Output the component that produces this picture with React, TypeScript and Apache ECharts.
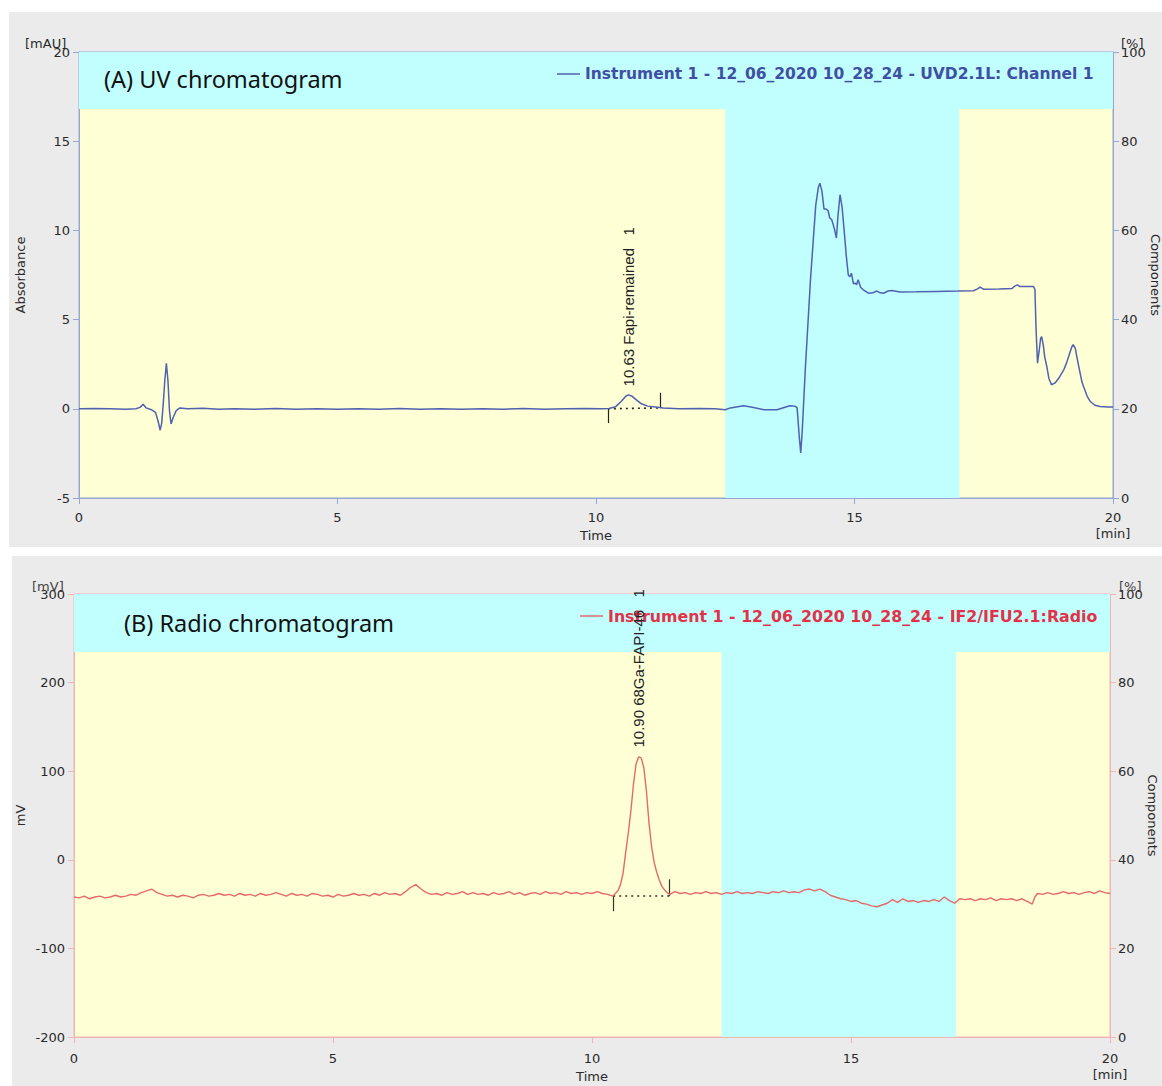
import React, { useEffect, useRef } from "react";
import * as echarts from "echarts";

const uvName = "Instrument 1 - 12_06_2020 10_28_24 - UVD2.1L: Channel 1";
const radioName = "Instrument 1 - 12_06_2020 10_28_24 - IF2/IFU2.1:Radio";

const uvTitle = "(A) UV chromatogram";
const radioTitle = "(B) Radio chromatogram";

const uvPeakLabel = "10.63 Fapi-remained   1";
const radioPeakLabel = "10.90 68Ga-FAPI-46   1";

// time window (min) of the cyan column and top band levels (left-axis units)
const cyanWindow = [12.5, 17.03];
const uvTopBand = [16.8, 20];
const radioTopBand = [234.5, 300];

// UV trace [time min, mAU]
const uvData: [number, number][] = [
  [0, 0.0], [0.3, 0.02], [0.6, 0.0], [0.9, -0.03], [1.1, 0.0], [1.18, 0.08], [1.24, 0.25], [1.3, 0.05],
  [1.4, -0.05], [1.48, -0.2], [1.53, -0.7], [1.57, -1.2], [1.6, -0.8], [1.63, 0.3], [1.66, 1.6], [1.69, 2.55],
  [1.72, 1.6], [1.75, -0.1], [1.78, -0.85], [1.82, -0.5], [1.88, -0.1], [1.95, 0.05], [2.1, 0.0], [2.4, 0.03],
  [2.7, -0.02], [3.0, 0.0], [3.4, -0.03], [3.8, 0.01], [4.2, -0.02], [4.6, 0.0], [5.0, -0.03], [5.4, 0.0],
  [5.8, -0.02], [6.2, 0.01], [6.6, -0.03], [7.0, 0.0], [7.4, -0.02], [7.8, 0.0], [8.2, -0.02], [8.6, 0.01],
  [9.0, -0.02], [9.4, 0.0], [9.8, 0.02], [10.1, 0.0], [10.25, 0.02], [10.38, 0.12], [10.5, 0.45], [10.58, 0.72],
  [10.63, 0.78], [10.7, 0.7], [10.78, 0.5], [10.88, 0.28], [11.0, 0.15], [11.15, 0.1], [11.3, 0.05], [11.6, 0.0],
  [12.0, 0.02], [12.3, 0.0], [12.5, -0.05], [12.6, 0.05], [12.85, 0.17], [13.0, 0.1], [13.25, -0.05], [13.5, -0.05],
  [13.75, 0.17], [13.85, 0.15], [13.89, 0.05], [13.93, -1.5], [13.96, -2.48], [13.99, -1.2], [14.05, 2.3],
  [14.15, 7.3], [14.25, 11.4], [14.3, 12.4], [14.33, 12.65], [14.37, 12.2], [14.41, 11.2], [14.45, 11.2],
  [14.49, 11.1], [14.52, 10.7], [14.56, 10.6], [14.61, 10.1], [14.65, 9.57], [14.68, 10.8], [14.72, 12.0],
  [14.76, 11.3], [14.8, 10.0], [14.84, 8.6], [14.88, 7.5], [14.91, 7.4], [14.94, 7.6], [14.98, 7.0],
  [15.01, 7.05], [15.04, 6.95], [15.07, 7.23], [15.12, 6.8], [15.17, 6.67], [15.27, 6.48], [15.35, 6.5],
  [15.43, 6.6], [15.5, 6.5], [15.56, 6.48], [15.65, 6.6], [15.72, 6.63], [15.88, 6.55], [16.2, 6.56],
  [16.6, 6.58], [17.0, 6.6], [17.3, 6.62], [17.38, 6.72], [17.43, 6.82], [17.5, 6.7], [17.8, 6.72],
  [18.05, 6.75], [18.1, 6.88], [18.15, 6.95], [18.2, 6.85], [18.35, 6.85], [18.46, 6.86], [18.49, 6.7],
  [18.51, 4.6], [18.54, 2.56], [18.57, 3.2], [18.6, 3.95], [18.62, 4.05], [18.65, 3.6], [18.68, 2.9],
  [18.72, 2.37], [18.76, 1.7], [18.81, 1.35], [18.88, 1.45], [18.97, 1.8], [19.05, 2.2], [19.1, 2.56],
  [19.15, 3.0], [19.2, 3.45], [19.23, 3.59], [19.27, 3.4], [19.3, 2.93], [19.35, 2.2], [19.4, 1.5],
  [19.43, 1.25], [19.5, 0.7], [19.56, 0.41], [19.65, 0.2], [19.75, 0.13], [19.9, 0.1], [20, 0.1],
];

// Radio trace [time min, mV]
const radioData: [number, number][] = [
  [0.0, -42], [0.1, -43], [0.2, -41], [0.3, -44], [0.4, -42], [0.5, -41], [0.6, -43], [0.7, -42], [0.8, -40],
  [0.9, -42], [1.0, -41], [1.1, -39], [1.2, -40], [1.3, -37], [1.4, -35], [1.5, -33], [1.6, -37], [1.7, -39],
  [1.8, -41], [1.9, -40], [2.0, -42], [2.1, -40], [2.2, -41], [2.3, -43], [2.4, -40], [2.5, -39], [2.6, -41],
  [2.7, -40], [2.8, -38], [2.9, -40], [3.0, -39], [3.1, -41], [3.2, -38], [3.3, -40], [3.4, -39], [3.5, -41],
  [3.6, -38], [3.7, -40], [3.8, -39], [3.9, -37], [4.0, -39], [4.1, -41], [4.2, -38], [4.3, -40], [4.4, -39],
  [4.5, -41], [4.6, -38], [4.7, -39], [4.8, -41], [4.9, -40], [5.0, -42], [5.1, -39], [5.2, -41], [5.3, -40],
  [5.4, -38], [5.5, -40], [5.6, -39], [5.7, -41], [5.8, -38], [5.9, -40], [6.0, -37], [6.1, -39], [6.2, -38],
  [6.3, -40], [6.4, -36], [6.5, -31], [6.6, -28], [6.7, -33], [6.8, -37], [6.9, -39], [7.0, -38], [7.1, -40],
  [7.2, -37], [7.3, -39], [7.4, -38], [7.5, -36], [7.6, -39], [7.7, -37], [7.8, -39], [7.9, -38], [8.0, -40],
  [8.1, -37], [8.2, -39], [8.3, -38], [8.4, -36], [8.5, -39], [8.6, -37], [8.7, -40], [8.8, -38], [8.9, -37],
  [9.0, -39], [9.1, -36], [9.2, -38], [9.3, -37], [9.4, -39], [9.5, -36], [9.6, -38], [9.7, -37], [9.8, -39],
  [9.9, -37], [10.0, -38], [10.1, -36], [10.2, -38], [10.3, -39], [10.4, -41], [10.45, -38], [10.5, -35],
  [10.55, -28], [10.6, -15], [10.65, 8], [10.7, 30], [10.75, 55], [10.8, 85], [10.85, 108], [10.9, 116],
  [10.95, 115], [11.0, 104], [11.05, 78], [11.1, 42], [11.15, 15], [11.2, -3], [11.25, -14], [11.3, -23],
  [11.35, -30], [11.4, -34], [11.45, -37], [11.5, -39], [11.6, -36], [11.7, -38], [11.8, -37], [11.9, -39],
  [12.0, -37], [12.1, -38], [12.2, -36], [12.3, -38], [12.4, -37], [12.5, -39], [12.6, -37], [12.7, -38],
  [12.8, -36], [12.9, -38], [13.0, -37], [13.1, -38], [13.2, -36], [13.3, -37], [13.4, -38], [13.5, -36],
  [13.6, -37], [13.7, -35], [13.8, -37], [13.9, -36], [14.0, -37], [14.1, -34], [14.2, -33], [14.3, -35],
  [14.4, -33], [14.5, -36], [14.6, -40], [14.7, -42], [14.8, -44], [14.9, -45], [15.0, -47], [15.1, -46],
  [15.2, -49], [15.3, -50], [15.4, -52], [15.5, -53], [15.6, -51], [15.7, -49], [15.8, -45], [15.9, -48],
  [16.0, -44], [16.1, -47], [16.2, -46], [16.3, -48], [16.4, -46], [16.5, -47], [16.6, -45], [16.7, -47],
  [16.8, -42], [16.9, -46], [17.0, -49], [17.1, -44], [17.2, -45], [17.3, -44], [17.4, -46], [17.5, -44],
  [17.6, -45], [17.7, -43], [17.8, -46], [17.9, -44], [18.0, -45], [18.1, -44], [18.2, -46], [18.3, -44],
  [18.4, -47], [18.5, -50], [18.55, -42], [18.6, -38], [18.7, -39], [18.8, -37], [18.9, -39], [19.0, -38],
  [19.1, -36], [19.2, -38], [19.3, -37], [19.4, -39], [19.5, -37], [19.6, -36], [19.7, -38], [19.8, -35],
  [19.9, -37], [20.0, -38],
];

// peak annotation points
const uvPeak: [number, number] = [10.63, 0.78];
const radioPeak: [number, number] = [10.9, 116];

// integration baselines and ticks
const uvIntegration = { t0: 10.23, t1: 11.24, base0: 0, base1: 0.05, tickLow: -0.8, tickHigh: 0.9 };
const radioIntegration = { t0: 10.41, t1: 11.49, base0: -41, base1: -41, tickLow: -58, tickHigh: -22 };

const CYAN = "#c1fefe";
const YELLOW = "#ffffd6";
const GRAY = "#ebebeb";
const UV_COLOR = "#5061b0";
const RADIO_COLOR = "#e46a6a";
const UV_AXIS = "#98a6d4";
const RADIO_AXIS = "#f0b4b4";
const TXT = "#2a2a2a";
const AXFONT = "DejaVu Sans";

function integrationLines(ig: any) {
  return [
    [{ coord: [ig.t0, ig.base0] }, { coord: [ig.t0, ig.tickLow] }],
    [{ coord: [ig.t1, ig.tickHigh] }, { coord: [ig.t1, ig.base1] }],
    [
      { coord: [ig.t0, ig.base0], lineStyle: { type: [2, 4], width: 1.6 } },
      { coord: [ig.t1, ig.base1] },
    ],
  ];
}

export default function App() {
  const ref = useRef<HTMLDivElement>(null);
  useEffect(() => {
    if (!ref.current) return;
    const chart = echarts.init(ref.current, null, { renderer: "svg" });

    const xAxisBase = (gi: number, color: string, margin: number, nameGap: number) => ({
      gridIndex: gi,
      type: "value",
      min: 0,
      max: 20,
      interval: 5,
      axisLine: { show: true, onZero: false, lineStyle: { color } },
      axisTick: { show: true, length: 6, lineStyle: { color } },
      splitLine: { show: false },
      axisLabel: {
        color: TXT,
        fontSize: 13,
        fontFamily: AXFONT,
        margin,
        lineHeight: 16,
        formatter: (v: number) => (v === 20 ? "20\n[min]" : String(v)),
      },
      name: "Time",
      nameLocation: "middle",
      nameGap,
      nameMoveOverlap: false,
      nameTextStyle: { color: TXT, fontSize: 13, fontFamily: AXFONT },
    });

    const yLeft = (gi: number, min: number, max: number, interval: number, color: string, name: string, nameGap: number) => ({
      gridIndex: gi,
      type: "value",
      position: "left",
      min,
      max,
      interval,
      axisLine: { show: true, onZero: false, lineStyle: { color } },
      axisTick: { show: true, length: 6, lineStyle: { color } },
      splitLine: { show: false },
      axisLabel: { color: TXT, fontSize: 13, fontFamily: AXFONT, margin: 9 },
      name,
      nameLocation: "middle",
      nameGap,
      nameMoveOverlap: false,
      nameTextStyle: { color: TXT, fontSize: 13, fontFamily: AXFONT },
    });

    const yRight = (gi: number, color: string) => ({
      gridIndex: gi,
      type: "value",
      position: "right",
      min: 0,
      max: 100,
      interval: 20,
      axisLine: { show: true, onZero: false, lineStyle: { color } },
      axisTick: { show: true, length: 6, lineStyle: { color } },
      splitLine: { show: false },
      axisLabel: { color: TXT, fontSize: 13, fontFamily: AXFONT, margin: 8 },
      name: "Components",
      nameLocation: "middle",
      nameRotate: -90,
      nameGap: 36,
      nameMoveOverlap: false,
      nameTextStyle: { color: TXT, fontSize: 13, fontFamily: AXFONT },
    });

    const option: any = {
      animation: false,
      backgroundColor: "#ffffff",
      graphic: [
        { type: "rect", z: -10, shape: { x: 9, y: 12, width: 1153, height: 535 }, style: { fill: GRAY } },
        { type: "rect", z: -10, shape: { x: 12, y: 556, width: 1150, height: 530 }, style: { fill: GRAY } },
        { type: "text", z: 100, left: 104, top: 67, style: { text: uvTitle, font: '23.5px "Noto Sans"', fill: "#111" } },
        { type: "text", z: 100, left: 124, top: 611, style: { text: radioTitle, font: '23.5px "Noto Sans"', fill: "#111" } },
        { type: "text", z: 100, left: 25, top: 37, style: { text: "[mAU]", font: '13px "DejaVu Sans"', fill: TXT } },
        { type: "text", z: 100, left: 1121, top: 37, style: { text: "[%]", font: '13px "DejaVu Sans"', fill: TXT } },
        { type: "text", z: 100, left: 32, top: 580, style: { text: "[mV]", font: '13px "DejaVu Sans"', fill: "#444" } },
        { type: "text", z: 100, left: 1119, top: 580, style: { text: "[%]", font: '13px "DejaVu Sans"', fill: "#444" } },
      ],
      legend: [
        {
          data: [uvName],
          left: 557,
          top: 66,
          padding: 0,
          icon: "rect",
          itemWidth: 23,
          itemHeight: 1.5,
          itemGap: 8,
          textStyle: { color: "#3f4fa3", fontWeight: "bold", fontSize: 15.5, fontFamily: AXFONT },
        },
        {
          data: [radioName],
          left: 580,
          top: 608,
          padding: 0,
          icon: "rect",
          itemWidth: 23,
          itemHeight: 1.5,
          textStyle: { color: "#e23248", fontWeight: "bold", fontSize: 15.8, fontFamily: AXFONT },
        },
      ],
      grid: [
        { left: 79, top: 52, width: 1034, height: 446, show: true, backgroundColor: YELLOW, borderColor: UV_AXIS, borderWidth: 1, outerBoundsMode: "none", containLabel: false },
        { left: 74, top: 594, width: 1036, height: 443, show: true, backgroundColor: YELLOW, borderColor: RADIO_AXIS, borderWidth: 1, outerBoundsMode: "none", containLabel: false },
      ],
      xAxis: [xAxisBase(0, UV_AXIS, 11, 31), xAxisBase(1, RADIO_AXIS, 13, 33)],
      yAxis: [
        yLeft(0, -5, 20, 5, UV_AXIS, "Absorbance", 52),
        yRight(0, UV_AXIS),
        yLeft(1, -200, 300, 100, RADIO_AXIS, "mV", 47),
        yRight(1, RADIO_AXIS),
      ],
      series: [
        {
          name: uvName,
          type: "line",
          xAxisIndex: 0,
          yAxisIndex: 0,
          data: uvData,
          showSymbol: false,
          symbol: "none",
          lineStyle: { color: UV_COLOR, width: 1.5 },
          itemStyle: { color: UV_COLOR },
          z: 5,
          markArea: {
            silent: true,
            itemStyle: { color: CYAN, opacity: 1 },
            data: [
              [{ xAxis: 0, yAxis: uvTopBand[0] }, { xAxis: 20, yAxis: uvTopBand[1] }],
              [{ xAxis: cyanWindow[0], yAxis: -5 }, { xAxis: cyanWindow[1], yAxis: uvTopBand[0] }],
            ],
          },
          markLine: {
            silent: true,
            symbol: ["none", "none"],
            label: { show: false },
            lineStyle: { color: "#222", width: 1.2, type: "solid" },
            data: integrationLines(uvIntegration),
          },
          markPoint: {
            silent: true,
            symbol: "circle",
            symbolSize: 1,
            itemStyle: { color: "rgba(0,0,0,0)" },
            data: [
              {
                coord: uvPeak,
                label: {
                  show: true,
                  formatter: uvPeakLabel,
                  rotate: 90,
                  position: [0, -8],
                  align: "left",
                  verticalAlign: "middle",
                  color: "#222",
                  fontSize: 15,
                  fontFamily: "Liberation Sans",
                },
              },
            ],
          },
        },
        {
          name: radioName,
          type: "line",
          xAxisIndex: 1,
          yAxisIndex: 2,
          data: radioData,
          showSymbol: false,
          symbol: "none",
          lineStyle: { color: RADIO_COLOR, width: 1.4 },
          itemStyle: { color: RADIO_COLOR },
          z: 5,
          markArea: {
            silent: true,
            itemStyle: { color: CYAN, opacity: 1 },
            data: [
              [{ xAxis: 0, yAxis: radioTopBand[0] }, { xAxis: 20, yAxis: radioTopBand[1] }],
              [{ xAxis: cyanWindow[0], yAxis: -200 }, { xAxis: cyanWindow[1], yAxis: radioTopBand[0] }],
            ],
          },
          markLine: {
            silent: true,
            symbol: ["none", "none"],
            label: { show: false },
            lineStyle: { color: "#333", width: 1.2, type: "solid" },
            data: integrationLines(radioIntegration),
          },
          markPoint: {
            silent: true,
            symbol: "circle",
            symbolSize: 1,
            itemStyle: { color: "rgba(0,0,0,0)" },
            data: [
              {
                coord: radioPeak,
                label: {
                  show: true,
                  formatter: radioPeakLabel,
                  rotate: 90,
                  position: [0, -9],
                  align: "left",
                  verticalAlign: "middle",
                  color: "#222",
                  fontSize: 15,
                  fontFamily: "Liberation Sans",
                },
              },
            ],
          },
        },
      ],
    };

    chart.setOption(option);
    return () => chart.dispose();
  }, []);

  return (
    <div
      ref={ref}
      style={{ position: "absolute", left: 0, top: 0, width: 1162, height: 1086 }}
    />
  );
}
